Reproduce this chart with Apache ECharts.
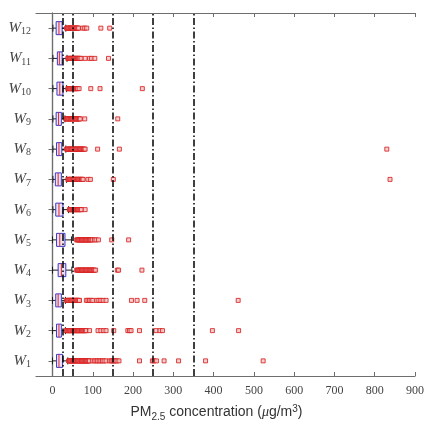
<!DOCTYPE html>
<html>
<head>
<meta charset="utf-8">
<script src="https://cdn.jsdelivr.net/npm/echarts@6/dist/echarts.min.js"></script>
<style>
  html, body { margin: 0; padding: 0; background: #fff; }
  #chart { width: 427px; height: 427px; }
</style>
</head>
<body>
<div id="chart"></div>
<script>
// Weekly PM2.5 distributions (µg/m³), W1 at the bottom
const categories = ['W1','W2','W3','W4','W5','W6','W7','W8','W9','W10','W11','W12'];

// box statistics per week: lower whisker, Q1, median, Q3, upper whisker
const whiskerLow = [0, 0, 0, 0, 0, 1, 1, 1, 1, 1, 1, 1];
const quartile1  = [10, 10, 8, 14, 10, 8, 7, 10, 9, 11, 12, 9];
const medians    = [16, 16, 14, 22, 18, 16, 14, 16, 15, 18, 17, 16];
const quartile3  = [25, 22, 22, 33, 31, 26, 22, 23, 22, 26, 24, 24];
const whiskerHigh = [38, 32, 32, 48, 47, 40, 35, 33, 31, 35, 36, 33];

// outlying observations per week
const outliers = [
  // W1
  [40,42,44,46,48,50,52,54,56,58,60,62,64,66,68,70,72,74,76,78,80,82,84,86,88,90,92,
   99,104,108,112,116,120,124,128,133,142,146,150,153,156,160,165,216,248,252,258,277,313,380,523],
  // W2
  [34,36,38,40,42,44,46,48,50,52,54,56,58,60,62,64,66,68,70,72,74,76,78,80,82,84,
   92,113,120,127,133,152,187,191,195,216,257,267,273,397,462],
  // W3
  [35,37,39,41,43,45,47,49,51,53,55,57,59,61,63,65,67,
   84,88,92,96,100,110,115,120,126,133,196,210,229,461],
  // W4
  [60,62,64,66,68,70,72,74,76,78,80,82,84,86,88,90,92,94,96,98,100,102,104,107,161,164,222],
  // W5
  [60,62,64,66,68,70,72,74,76,78,80,82,84,86,88,90,92,94,96,99,104,108,114,147,189],
  // W6
  [42,44,46,48,50,52,54,56,58,60,62,64,66,68,70,72,81],
  // W7
  [38,40,42,44,46,48,50,52,54,56,58,60,62,64,66,68,70,72,74,76,88,94,151,838],
  // W8
  [35,37,39,41,43,45,47,49,51,53,55,57,59,61,63,65,67,69,71,73,75,77,79,81,112,166,830],
  // W9
  [33,35,37,39,41,43,45,47,49,51,53,55,57,59,61,63,65,67,69,80,162],
  // W10
  [38,40,42,44,46,48,50,52,54,56,58,60,62,66,95,118,223],
  // W11
  [38,40,42,44,46,48,50,52,54,56,58,60,62,64,66,68,71,81,92,97,105,139],
  // W12
  [35,37,39,41,43,45,47,49,51,53,55,57,59,61,63,65,75,80,85,120,142]
];

// reference thresholds drawn as dash-dot lines
const thresholds = [25, 50, 150, 250, 350];

const xTicks = [0, 100, 200, 300, 400, 500, 600, 700, 800, 900];

const boxData = categories.map((c, i) =>
  [i, whiskerLow[i], quartile1[i], medians[i], quartile3[i], whiskerHigh[i]]);

const outlierData = [];
outliers.forEach((list, i) => list.forEach(v => outlierData.push([v, i])));

const frameColor = '#6e6e6e';
const serif = '"Liberation Serif", "DejaVu Serif", serif';
const sans = '"Liberation Sans", Arial, sans-serif';

function renderBox(params, api) {
  const yi = api.value(0);
  const pt = dim => api.coord([api.value(dim), yi]);
  const pLow = pt(1), pQ1 = pt(2), pMed = pt(3), pQ3 = pt(4), pHigh = pt(5);
  const y = pLow[1];
  const halfBox = 6.5, halfCap = 3.5;
  const whisker = { stroke: '#1a1a1a', lineWidth: 1 };
  return {
    type: 'group',
    children: [
      { type: 'line', shape: { x1: pLow[0], y1: y, x2: pQ1[0], y2: y }, style: whisker },
      { type: 'line', shape: { x1: pQ3[0], y1: y, x2: pHigh[0], y2: y }, style: whisker },
      { type: 'line', shape: { x1: pLow[0], y1: y - halfCap, x2: pLow[0], y2: y + halfCap }, style: whisker },
      { type: 'line', shape: { x1: pHigh[0], y1: y - halfCap, x2: pHigh[0], y2: y + halfCap }, style: whisker },
      { type: 'rect', shape: { x: pQ1[0], y: y - halfBox, width: pQ3[0] - pQ1[0], height: halfBox * 2 },
        style: { fill: '#ece0f2', stroke: '#3a3ac8', lineWidth: 1 } },
      { type: 'line', shape: { x1: pMed[0], y1: y - halfBox, x2: pMed[0], y2: y + halfBox },
        style: { stroke: '#e02828', lineWidth: 1 } }
    ]
  };
}

const chart = echarts.init(document.getElementById('chart'), null, { renderer: 'canvas' });

chart.setOption({
  animation: false,
  backgroundColor: '#fff',
  grid: { left: 36, right: 10, top: 13, bottom: 50, containLabel: false },
  xAxis: [
    {
      type: 'value', position: 'bottom', min: -41, max: 900,
      axisLine: { show: true, lineStyle: { color: frameColor, width: 1.2 } },
      axisTick: { show: true, inside: true, length: 4, customValues: xTicks, lineStyle: { color: frameColor } },
      axisLabel: { customValues: xTicks, margin: 9, fontFamily: serif, fontSize: 12, color: '#444' },
      splitLine: { show: false },
      name: '{a|PM}{b|2.5}{a| concentration (}{m|μ}{a|g/m}{c|3}{a|)}',
      nameLocation: 'middle', nameGap: 27,
      nameTextStyle: {
        padding: [0, 18, 0, 0],
        rich: {
          a: { fontFamily: sans, fontSize: 14, color: '#333' },
          b: { fontFamily: sans, fontSize: 10, color: '#333', padding: [9, 0, 0, 0] },
          m: { fontFamily: serif, fontStyle: 'italic', fontSize: 14, color: '#333' },
          c: { fontFamily: sans, fontSize: 10, color: '#333', padding: [0, 0, 7, 0] }
        }
      }
    },
    {
      type: 'value', position: 'top', min: -41, max: 900,
      axisLine: { show: true, lineStyle: { color: frameColor, width: 1.2 } },
      axisTick: { show: true, inside: true, length: 4, customValues: xTicks, lineStyle: { color: frameColor } },
      axisLabel: { show: false },
      splitLine: { show: false }
    }
  ],
  yAxis: [
    {
      type: 'category', data: categories, position: 'left',
      axisLine: { show: true, lineStyle: { color: frameColor, width: 1.2 } },
      axisTick: { show: true, alignWithLabel: true, length: 3, lineStyle: { color: frameColor } },
      axisLabel: {
        margin: 5,
        formatter: v => '{w|W}{s|' + v.slice(1) + '}',
        rich: {
          w: { fontFamily: serif, fontStyle: 'italic', fontSize: 15, color: '#444' },
          s: { fontFamily: serif, fontSize: 10, color: '#444', padding: [7, 0, 0, 0] }
        }
      },
      splitLine: { show: false }
    },
    {
      type: 'category', data: categories, position: 'right',
      axisLine: { show: true, lineStyle: { color: frameColor, width: 1.2 } },
      axisTick: { show: true, inside: true, alignWithLabel: true, length: 4, lineStyle: { color: frameColor } },
      axisLabel: { show: false },
      splitLine: { show: false }
    }
  ],
  series: [
    {
      type: 'custom', name: 'box', xAxisIndex: 0, yAxisIndex: 0,
      renderItem: renderBox, data: boxData,
      encode: { x: [1, 2, 3, 4, 5], y: 0 }, z: 2, silent: true
    },
    {
      type: 'scatter', name: 'outliers', xAxisIndex: 0, yAxisIndex: 0,
      data: outlierData, symbol: 'rect', symbolSize: 4,
      itemStyle: { color: '#f3c4c4', borderColor: '#d81818', borderWidth: 1 },
      z: 3, silent: true
    },
    {
      type: 'scatter', name: 'thresholds', xAxisIndex: 0, yAxisIndex: 0, data: [],
      markLine: {
        silent: true, symbol: ['none', 'none'], label: { show: false },
        lineStyle: { color: '#000', width: 1.5, type: [7, 2.5, 1.5, 2.5] },
        data: thresholds.map(t => ({ xAxis: t })),
        z: 5
      },
      z: 5
    }
  ]
});
</script>
</body>
</html>
